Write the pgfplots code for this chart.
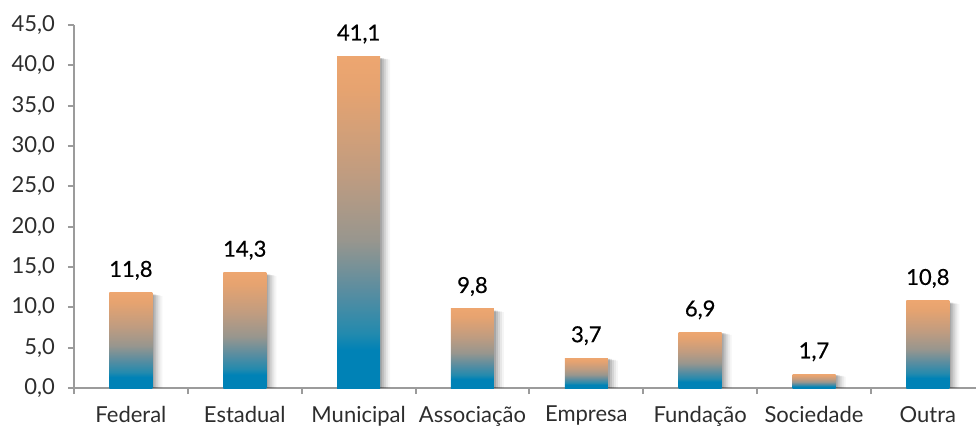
\documentclass[border=0pt]{standalone}
\usepackage{pgfplots}
\pgfplotsset{compat=1.18}
\usepackage{fontspec}
\setmainfont{Lato}
\newfontfamily\valfont[FakeBold=0.6]{Lato}
\definecolor{barblue}{RGB}{0,130,182}
\definecolor{barb2}{RGB}{35,138,174}
\definecolor{barb3}{RGB}{90,141,160}
\definecolor{barmid}{RGB}{152,150,142}
\definecolor{bartan}{RGB}{192,156,128}
\definecolor{baror2}{RGB}{230,163,112}
\definecolor{barorange}{RGB}{237,166,112}
\definecolor{axgray}{RGB}{155,155,155}
\definecolor{txt}{RGB}{45,45,45}
\pgfdeclareverticalshading{barshade}{100bp}{color(0bp)=(barblue); color(25bp)=(barblue); color(30.75bp)=(barblue); color(33.3bp)=(barb2); color(39.75bp)=(barb3); color(47.3bp)=(barmid); color(57.4bp)=(bartan); color(70bp)=(baror2); color(75bp)=(barorange); color(100bp)=(barorange)}
\pgfplotsset{
  mainbar/.style={ybar, bar width=21.5pt, bar shift=0pt, draw=none, shade, shading=barshade,
    nodes near coords={\pgfmathprintnumber[fixed,fixed zerofill,precision=1,use comma,assume math mode=true]{\pgfplotspointmeta}},
    every node near coord/.append style={anchor=base, inner sep=0pt, yshift=8pt, font=\valfont\fontsize{11}{13}\selectfont, text=black, opacity=1}},
  shadowbar/.style={ybar, bar width=21.5pt, bar shift=#1, fill=black, draw=none},
}
\begin{document}
\begin{tikzpicture}
\begin{axis}[
  scale only axis, width=455.4pt, height=181.5pt,
  xmin=-0.5, xmax=7.5, ymin=0, ymax=45,
  axis lines=left, axis line style={-, draw=axgray, line width=1pt},
  every tick/.style={draw=axgray, line width=1pt},
  tick align=outside, major tick length=3pt,
  ytick={0,5,...,45},
  xtick={-0.5,0.5,...,7.5},
  x tick label as interval,
  xticklabels={Federal,Estadual,Municipal,Associação,Empresa,Fundação,Sociedade,Outra},
  /pgf/number format/assume math mode=true,
  yticklabel style={/pgf/number format/.cd, fixed, fixed zerofill, precision=1, use comma, /tikz/.cd, xshift=-3pt},
  xticklabel style={yshift=-2.5pt},
  ticklabel style={font=\fontsize{11}{13}\selectfont, text=txt},
  clip=false,
]
\addplot[shadowbar=1pt, opacity=0.12] coordinates {(0,11.6) (1,14.1) (2,40.9) (3,9.6) (4,3.6) (5,6.8) (6,1.6) (7,10.6)};
\addplot[shadowbar=2pt, opacity=0.10] coordinates {(0,11.6) (1,14.1) (2,40.9) (3,9.6) (4,3.6) (5,6.8) (6,1.6) (7,10.6)};
\addplot[shadowbar=3pt, opacity=0.08] coordinates {(0,11.5) (1,14.0) (2,40.8) (3,9.5) (4,3.5) (5,6.7) (6,1.5) (7,10.5)};
\addplot[shadowbar=4pt, opacity=0.06] coordinates {(0,11.5) (1,14.0) (2,40.8) (3,9.5) (4,3.5) (5,6.7) (6,1.5) (7,10.5)};
\addplot[shadowbar=5pt, opacity=0.04] coordinates {(0,11.4) (1,13.9) (2,40.7) (3,9.4) (4,3.4) (5,6.6) (6,1.4) (7,10.4)};
\addplot[mainbar] coordinates {(0,11.8)};
\addplot[mainbar] coordinates {(1,14.3)};
\addplot[mainbar] coordinates {(2,41.1)};
\addplot[mainbar] coordinates {(3,9.8)};
\addplot[mainbar] coordinates {(4,3.7)};
\addplot[mainbar] coordinates {(5,6.9)};
\addplot[mainbar] coordinates {(6,1.7)};
\addplot[mainbar] coordinates {(7,10.8)};
\end{axis}
\pgfresetboundingbox
\path[use as bounding box] (-37pt,-18.5pt) rectangle (451pt,194pt);
\end{tikzpicture}
\end{document}
